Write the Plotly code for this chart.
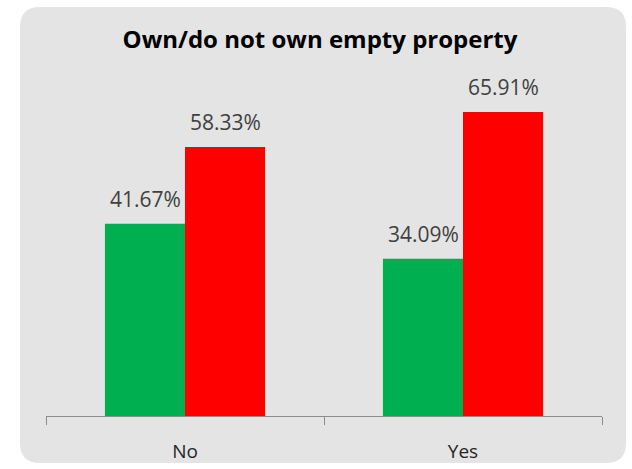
import plotly.graph_objects as go

categories = ["No", "Yes"]
green_values = [41.67, 34.09]
red_values = [58.33, 65.91]
green_labels = ["41.67%", "34.09%"]
red_labels = ["58.33%", "65.91%"]

W, H = 632, 469
ML, MR, MT, MB = 46, 30, 47, 53
PW, PH = W - ML - MR, H - MT - MB


def px2paper(x, y):
    return (x - ML) / PW, (H - MB - y) / PH


def rounded_rect(x0, y0, x1, y1, r):
    def p(x, y):
        a, b = px2paper(x, y)
        return f"{a:.5f},{b:.5f}"
    d = f"M {p(x0 + r, y0)} L {p(x1 - r, y0)} Q {p(x1, y0)} {p(x1, y0 + r)} "
    d += f"L {p(x1, y1 - r)} Q {p(x1, y1)} {p(x1 - r, y1)} "
    d += f"L {p(x0 + r, y1)} Q {p(x0, y1)} {p(x0, y1 - r)} "
    d += f"L {p(x0, y0 + r)} Q {p(x0, y0)} {p(x0 + r, y0)} Z"
    return d


font_fam = "Open Sans, Liberation Sans, sans-serif"

fig = go.Figure()
fig.add_trace(go.Bar(
    x=categories, y=green_values,
    marker=dict(color="#00b050", line=dict(width=0)), hoverinfo="skip",
))
fig.add_trace(go.Bar(
    x=categories, y=red_values,
    marker=dict(color="#ff0000", line=dict(width=0)), hoverinfo="skip",
))

for cat, gv, gl, rv, rl in zip(categories, green_values, green_labels, red_values, red_labels):
    fig.add_annotation(x=cat, y=gv, text=gl, showarrow=False, xshift=-40, yshift=25,
                       yanchor="middle", font=dict(size=21, color="#404040", family=font_fam))
    fig.add_annotation(x=cat, y=rv, text=rl, showarrow=False, xshift=40, yshift=25,
                       yanchor="middle", font=dict(size=21, color="#404040", family=font_fam))

fig.add_shape(type="path", xref="paper", yref="paper",
              path=rounded_rect(20, 7, 626, 463, 20),
              fillcolor="#e4e4e4", line=dict(width=0), layer="below")

fig.update_layout(
    width=W, height=H,
    margin=dict(l=ML, r=MR, t=MT, b=MB, autoexpand=False),
    paper_bgcolor="white", plot_bgcolor="rgba(0,0,0,0)",
    barmode="group", bargap=0.424, bargroupgap=0,
    showlegend=False,
    title=dict(text="<b>Own/do not own empty property</b>", x=320 / W, xanchor="center",
               y=1 - 40 / H, yanchor="middle",
               font=dict(size=24, color="#000000", family=font_fam)),
    xaxis=dict(showline=True, linecolor="#8c8c8c", linewidth=1, ticks="outside",
               tickson="boundaries", ticklen=8, tickcolor="#8c8c8c",
               ticklabelstandoff=18,
               tickfont=dict(size=19, color="#262626", family=font_fam),
               showgrid=False, zeroline=False),
    yaxis=dict(range=[0, 80], visible=False, showgrid=False, zeroline=False),
)

fig.write_html("out.html")
